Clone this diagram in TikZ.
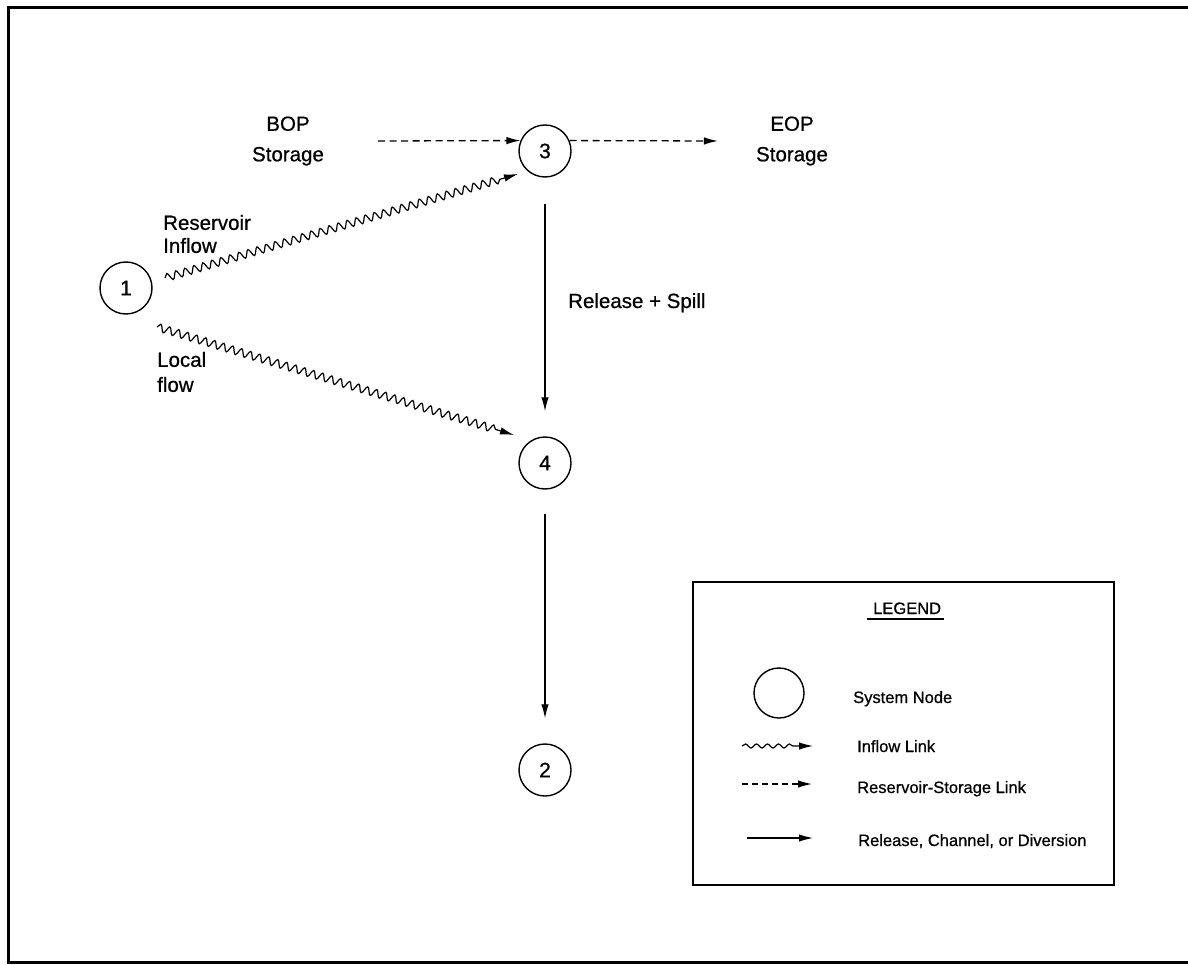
\documentclass[tikz,border=0pt]{standalone}
\usepackage{fontspec}
\setmainfont{Liberation Sans}[FakeBold=0.7]
\usetikzlibrary{arrows.meta,calc,decorations.pathmorphing}

\begin{document}
\begin{tikzpicture}[x=1pt,y=-1pt,
  lbl/.style={inner sep=0pt,font=\fontsize{20.5}{30.5}\selectfont},
  sysnode/.style={circle,draw,line width=1.4pt,minimum size=52pt,inner sep=0pt,font=\fontsize{21}{24}\selectfont},
  tip/.style={-{Latex[length=14pt,width=7.5pt]}},
  release/.style={tip,line width=1.3pt},
  storlink/.style={tip,line width=1.3pt,dash pattern=on 7pt off 4.5pt},
  inflow/.style={tip,line width=1.2pt,decorate,decoration={snake,amplitude=3.8pt,segment length=9.4pt,post length=16pt}},
  lgwave/.style={tip,line width=1.2pt,decorate,decoration={snake,amplitude=2pt,segment length=11pt,post length=17pt}},
  lgtext/.style={inner sep=0pt,anchor=base west,font=\fontsize{16.5}{20}\selectfont}]
  \useasboundingbox (0,0) rectangle (1188,965);
  % frame, open on the right
  \draw[line width=3pt] (1188,8) -- (8,8) -- (8,962) -- (1188,962);
  % system nodes
  \node[sysnode] (n1) at (126,288) {1};
  \node[sysnode] (n3) at (545,151) {3};
  \node[sysnode] (n4) at (545,463) {4};
  \node[sysnode] (n2) at (545,770) {2};
  % labels
  \node[lbl,align=center] (bop) at (288,141) {BOP\\Storage};
  \node[lbl,align=center] (eop) at (792,141) {EOP\\Storage};
  \node[lbl,align=left,anchor=west,font=\fontsize{20.5}{23}\selectfont] (resin) at (163,234) {Reservoir\\Inflow};
  \node[lbl,align=left,anchor=west,font=\fontsize{20.5}{25}\selectfont] (locfl) at (157,372) {Local\\flow};
  \node[lbl,anchor=base west] (relsp) at (568,308) {Release + Spill};
  % links
  \draw[storlink] ([xshift=54pt]bop.east) -- (n3.157);
  \draw[storlink] (n3.23) -- ([xshift=-38pt]eop.west);
  \draw[inflow] ([shift={(39,-10)}]n1.center) -- ([shift={(-27,23)}]n3.center);
  \draw[inflow] ([shift={(31,39)}]n1.center) -- ([shift={(-31,-28)}]n4.center);
  \draw[release,shorten <=26pt,shorten >=25pt] (n3) -- (n4);
  \draw[release,shorten <=24pt,shorten >=25pt] (n4) -- (n2);
  % legend
  \draw[line width=1.8pt] (693,582) rectangle (1114,885);
  \node[lgtext] (lgtitle) at (873,614) {LEGEND};
  \draw[line width=1.2pt] ([shift={(-6pt,-5pt)}]lgtitle.base west) -- ([shift={(3pt,-5pt)}]lgtitle.base east);
  \node[circle,draw,line width=1.4pt,minimum size=50pt] (lgnode) at (779,693) {};
  \node[lgtext] (lgsys) at (853,703) {System Node};
  \node[lgtext] (lginf) at (857,752) {Inflow Link};
  \node[lgtext] (lgsto) at (857,793) {Reservoir-Storage Link};
  \node[lgtext] (lgrel) at (858,846) {Release, Channel, or Diversion};
  \draw[lgwave] ([shift={(-115pt,6pt)}]lginf.base west) -- ([shift={(-44pt,6pt)}]lginf.base west);
  \draw[storlink,dash pattern=on 6pt off 4pt] ([shift={(-115pt,9pt)}]lgsto.base west) -- ([shift={(-45pt,9pt)}]lgsto.base west);
  \draw[release] ([shift={(-111pt,8pt)}]lgrel.base west) -- ([shift={(-45pt,8pt)}]lgrel.base west);
\end{tikzpicture}
\end{document}
